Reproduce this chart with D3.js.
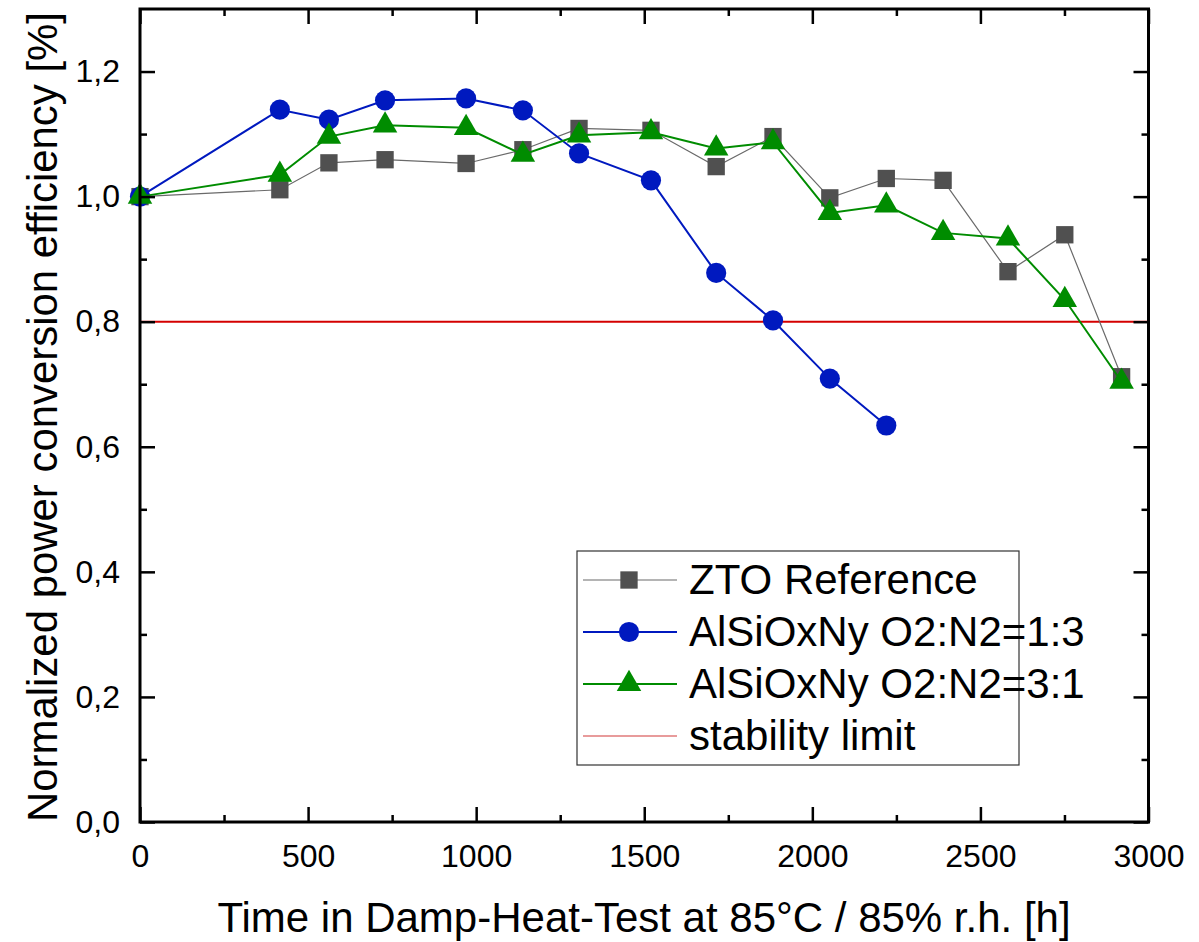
<!DOCTYPE html>
<html><head><meta charset="utf-8">
<script src="https://cdn.jsdelivr.net/npm/d3@7"></script>
<style>body{margin:0;background:#fff}svg{display:block}text{font-family:"Liberation Sans",Arial,sans-serif}</style>
</head><body>
<svg id="c" width="1199" height="942"></svg>
<script>
const times = [0, 416, 562, 729, 970, 1139, 1306, 1520, 1714, 1883, 2052, 2220, 2389, 2582, 2751, 2920];
const ztoRef = [1.000, 1.011, 1.054, 1.059, 1.053, 1.075, 1.109, 1.106, 1.048, 1.096, 0.998, 1.029, 1.026, 0.880, 0.939, 0.712];
const alsi13 = [1.000, 1.139, 1.123, 1.154, 1.157, 1.138, 1.069, 1.026, 0.878, 0.802, 0.709, 0.634];
const alsi31 = [1.000, 1.035, 1.096, 1.114, 1.110, 1.067, 1.098, 1.103, 1.077, 1.087, 0.974, 0.986, 0.942, 0.933, 0.835, 0.704];
const stabilityLimit = 0.8;
const xTicks = [0, 500, 1000, 1500, 2000, 2500, 3000];
const yTicks = [0, 0.2, 0.4, 0.6, 0.8, 1.0, 1.2];
const seriesNames = ["ZTO Reference", "AlSiOxNy O2:N2=1:3", "AlSiOxNy O2:N2=3:1", "stability limit"];

(function () {
const svg = d3.select("#c");
const L = 140, R = 1148.5, T = 9, B = 822;
const x = d3.scaleLinear().domain([0, 3000]).range([L, R]);
const y = d3.scaleLinear().domain([0, 1.3]).range([B, T]);

svg.append("line").attr("x1", L).attr("x2", R).attr("y1", y(stabilityLimit)).attr("y2", y(stabilityLimit))
  .attr("stroke", "#d40000").attr("stroke-width", 2);

const series = [
  {name: seriesNames[0], vals: ztoRef, line: "#6a6a6a", fill: "#505050", lw: 1.2, sym: d3.symbolSquare, size: 300},
  {name: seriesNames[1], vals: alsi13, line: "#0019bf", fill: "#0019bf", lw: 2, sym: d3.symbolCircle, size: 320},
  {name: seriesNames[2], vals: alsi31, line: "#008c00", fill: "#008c00", lw: 2, sym: d3.symbolTriangle, size: 260},
];
series.forEach(s => {
  const pts = s.vals.map((v, i) => [times[i], v]);
  svg.append("path").datum(pts)
    .attr("d", d3.line().x(d => x(d[0])).y(d => y(d[1])))
    .attr("fill", "none").attr("stroke", s.line).attr("stroke-width", s.lw);
  svg.append("g").selectAll("path").data(pts).join("path")
    .attr("transform", d => `translate(${x(d[0])},${y(d[1])})`)
    .attr("d", d3.symbol().type(s.sym).size(s.size))
    .attr("fill", s.fill);
});

const xMinor = d3.range(0, 3001, 250).filter(v => v % 500 !== 0);
const yMinor = d3.range(1, 13, 2).map(v => v / 10);
function addAxis(gen, tr) { return svg.append("g").attr("transform", tr).call(gen); }
addAxis(d3.axisBottom(x).tickValues(xTicks).tickSize(-15).tickPadding(22).tickFormat(d3.format("d")), `translate(0,${B})`);
addAxis(d3.axisBottom(x).tickValues(xMinor).tickSize(-7).tickFormat(""), `translate(0,${B})`);
addAxis(d3.axisTop(x).tickValues(xTicks).tickSize(-15).tickFormat(""), `translate(0,${T})`);
addAxis(d3.axisTop(x).tickValues(xMinor).tickSize(-7).tickFormat(""), `translate(0,${T})`);
addAxis(d3.axisLeft(y).tickValues(yTicks).tickSize(-15).tickPadding(20).tickFormat(d => d3.format(".1f")(d).replace(".", ",")), `translate(${L},0)`);
addAxis(d3.axisLeft(y).tickValues(yMinor).tickSize(-7).tickFormat(""), `translate(${L},0)`);
addAxis(d3.axisRight(y).tickValues(yTicks).tickSize(-15).tickFormat(""), `translate(${R},0)`);
addAxis(d3.axisRight(y).tickValues(yMinor).tickSize(-7).tickFormat(""), `translate(${R},0)`);
svg.selectAll(".domain").remove();
svg.selectAll(".tick line").attr("stroke", "#000").attr("stroke-width", 2.5);
svg.selectAll(".tick text").attr("font-size", 32).attr("fill", "#000").style("font-family", '"Liberation Sans", Arial, sans-serif');
svg.append("rect").attr("x", L).attr("y", T).attr("width", R - L).attr("height", B - T)
  .attr("fill", "none").attr("stroke", "#000").attr("stroke-width", 3);

svg.append("text").attr("x", 644).attr("y", 932).attr("text-anchor", "middle")
  .attr("font-size", 42).text("Time in Damp-Heat-Test at 85°C / 85% r.h. [h]");
svg.append("text").attr("transform", "translate(57,417) rotate(-90)").attr("text-anchor", "middle")
  .attr("font-size", 42).attr("textLength", 810).attr("lengthAdjust", "spacingAndGlyphs")
  .text("Normalized power conversion efficiency [%]");

const lg = svg.append("g");
lg.append("rect").attr("x", 577).attr("y", 551).attr("width", 442).attr("height", 214)
  .attr("fill", "#fff").attr("stroke", "#333").attr("stroke-width", 1.2);
const rowY = [580, 632, 684, 736];
series.forEach((s, i) => {
  lg.append("line").attr("x1", 583).attr("x2", 677).attr("y1", rowY[i]).attr("y2", rowY[i])
    .attr("stroke", s.line).attr("stroke-width", s.lw);
  lg.append("path").attr("transform", `translate(629,${rowY[i]})`)
    .attr("d", d3.symbol().type(s.sym).size(s.size)).attr("fill", s.fill);
});
lg.append("line").attr("x1", 583).attr("x2", 677).attr("y1", rowY[3]).attr("y2", rowY[3])
  .attr("stroke", "#e07a7a").attr("stroke-width", 1.5);
seriesNames.forEach((n, i) => {
  lg.append("text").attr("x", 689).attr("y", rowY[i] + 14).attr("font-size", 42).text(n);
});
})();
</script>
</body></html>
